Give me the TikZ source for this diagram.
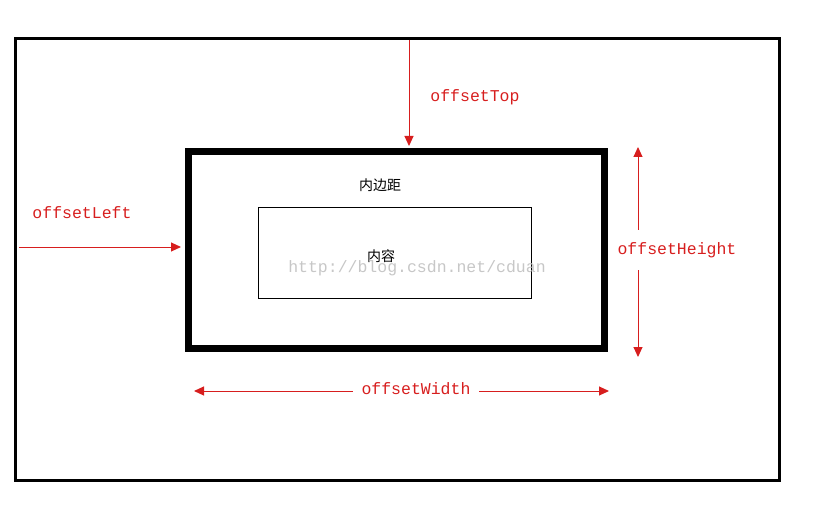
\documentclass[tikz,border=0pt]{standalone}
\usepackage{fontspec}
\usepackage{tikz}
\usetikzlibrary{arrows.meta, positioning, calc}
\newfontfamily\monofont{Liberation Mono}
\newfontfamily\cjk{Noto Sans CJK SC}
\definecolor{offsetred}{RGB}{215,30,30}

\tikzset{
  offarrow/.style={-{Triangle[length=10pt,width=9pt]}, line width=1pt, offsetred},
  offlabel/.style={font=\monofont\fontsize{16.5}{18}\selectfont, text=offsetred, inner sep=0pt}
}

\begin{document}
\begin{tikzpicture}[x=1pt, y=-1pt]
    \useasboundingbox (0,0) rectangle (816,513);

    % Page frame, border box and content box
    \draw[line width=3pt] (15.5,38.5) rectangle (779,480);
    \node[draw, line width=7pt, minimum width=416pt, minimum height=197pt, inner sep=0pt] (box) at (396.5,250) {};
    \node[draw, line width=0.8pt, minimum width=273pt, minimum height=91pt, inner sep=0pt] (content) at (394.5,252.5) {};

    % Texts inside the box
    \node[font=\cjk\fontsize{14}{16}\selectfont] (padding) at (380,185) {内边距};
    \node[font=\cjk\fontsize{14}{16}\selectfont] (inner) at (381,256) {内容};
    \node[font=\monofont\fontsize{16.5}{18}\selectfont, text=black!22] (mark) at (417,268) {http://blog.csdn.net/cduan};

    % offsetTop
    \coordinate (tstart) at (409,40);
    \draw[offarrow, shorten >=2pt] (tstart) -- (tstart |- box.north);
    \node[offlabel] (toplabel) at (475,97) {offsetTop};

    % offsetLeft
    \coordinate (lstart) at (19,247);
    \draw[offarrow, shorten >=4pt] (lstart) -- (box.west |- lstart);
    \node[offlabel] (leftlabel) at (82,213) {offsetLeft};

    % offsetHeight with arrows going up and down
    \node[offlabel, minimum height=40pt] (hlabel) at (677,250) {offsetHeight};
    \coordinate (htop) at (638,147);
    \coordinate (hbot) at (638,357);
    \draw[offarrow] (hlabel.north -| htop) -- (htop);
    \draw[offarrow] (hlabel.south -| hbot) -- (hbot);

    % offsetWidth with arrows going left and right
    \node[offlabel, minimum width=126pt] (wlabel) at (416,389) {offsetWidth};
    \coordinate (wleft) at (194,391);
    \coordinate (wright) at (609,391);
    \draw[offarrow] (wlabel.west |- wleft) -- (wleft);
    \draw[offarrow] (wlabel.east |- wright) -- (wright);
\end{tikzpicture}
\end{document}
